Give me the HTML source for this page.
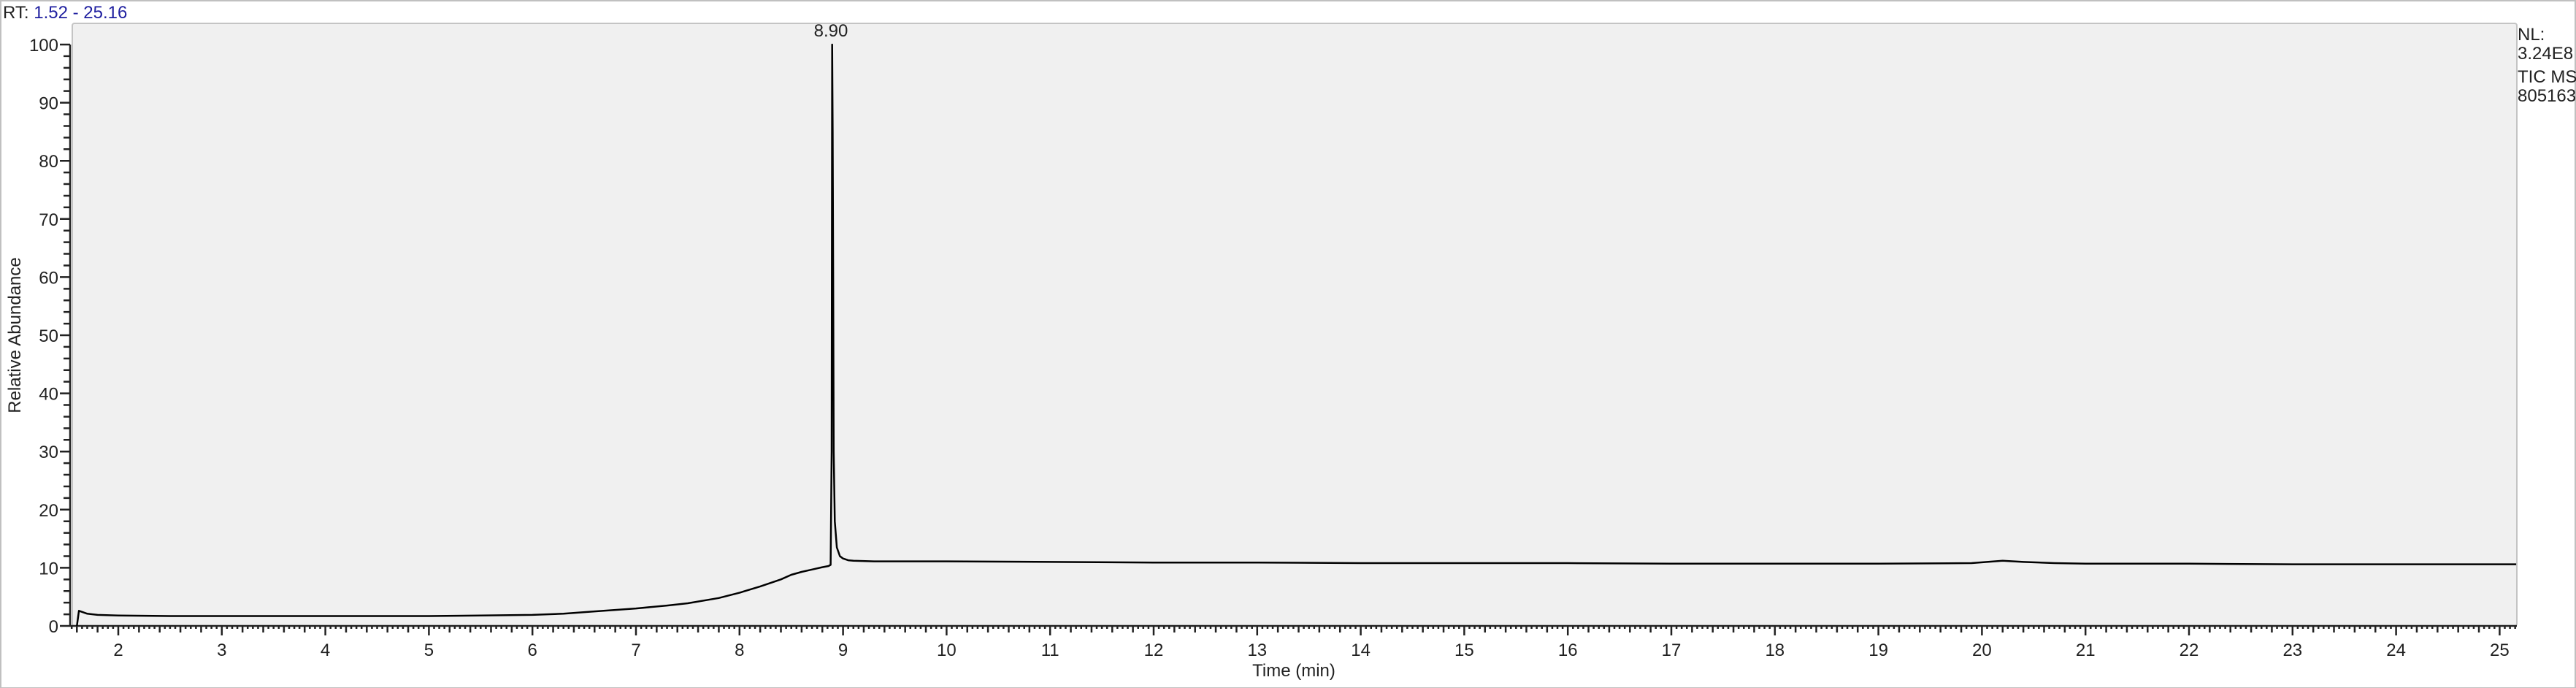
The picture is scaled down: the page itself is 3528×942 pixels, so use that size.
<!DOCTYPE html>
<html><head><meta charset="utf-8"><style>
html,body{margin:0;padding:0;background:#fff;}
svg{display:block;font-family:"Liberation Sans",Arial,sans-serif;}
</style></head><body>
<svg id="chart" width="3528" height="942" viewBox="0 0 3528 942" xmlns="http://www.w3.org/2000/svg">
<rect x="1" y="1" width="3526" height="941" fill="#fff" stroke="#c0c0c0" stroke-width="2"/>
<text x="4" y="25" font-size="24"><tspan fill="#222">RT: </tspan><tspan fill="#2020a0">1.52 - 25.16</tspan></text>
<rect x="99" y="32" width="3348" height="825" rx="3" fill="#f0f0f0" stroke="#c4c4c4" stroke-width="2"/>
<g id="axes"></g>
<g id="trace"></g>
<text x="1138" y="50" font-size="24" text-anchor="middle" fill="#222">8.90</text>
<text x="28" y="459" font-size="24" text-anchor="middle" fill="#222" transform="rotate(-90 28 459)">Relative Abundance</text>
<text x="1772" y="926" font-size="24" text-anchor="middle" fill="#222">Time (min)</text>
<g font-size="24" fill="#222">
<text x="3448" y="55">NL:</text>
<text x="3448" y="81">3.24E8</text>
<text x="3448" y="113">TIC  MS</text>
<text x="3448" y="139">805163</text>
</g>
</svg>
<script>
const times = [1.60,1.62,1.70,1.80,2.0,2.5,3.0,4.0,5.0,5.5,6.0,6.3,6.6,7.0,7.3,7.5,7.8,8.0,8.2,8.4,8.5,8.6,8.7,8.8,8.86,8.88,8.89,8.895,8.90,8.905,8.91,8.92,8.94,8.97,9.0,9.05,9.1,9.3,10,11,12,13,14,15,16,17,18,19,19.9,20.2,20.4,20.7,21,22,23,24,25,25.16];
const abundance = [0,2.6,2.1,1.9,1.8,1.7,1.7,1.7,1.7,1.8,1.9,2.1,2.5,3.0,3.5,3.9,4.8,5.7,6.8,8.0,8.8,9.3,9.7,10.1,10.3,10.5,30,100,85,60,30,18,13.5,12.0,11.6,11.3,11.2,11.1,11.1,11.0,10.9,10.9,10.8,10.8,10.8,10.7,10.7,10.7,10.8,11.2,11.0,10.8,10.7,10.7,10.6,10.6,10.6,10.6];
const yTicks = [0,10,20,30,40,50,60,70,80,90,100];
const xTicks = [2,3,4,5,6,7,8,9,10,11,12,13,14,15,16,17,18,19,20,21,22,23,24,25];
const xMin = 1.52, xMax = 25.16;
function sx(t){return 162 + (t-2)*141.8;}
function sy(v){return 857 - v*7.96;}
const NS="http://www.w3.org/2000/svg";
const axes=document.getElementById('axes');
function mk(tag,attrs,parent){const e=document.createElementNS(NS,tag);for(const k in attrs)e.setAttribute(k,attrs[k]);parent.appendChild(e);return e;}
let d="M96 "+sy(100)+" L96 857 L3447 857";
for(let v=0;v<=100;v+=2){const l=(v%10===0)?14:9;d+=" M"+(96-l)+" "+sy(v)+" L96 "+sy(v);}
for(let i=Math.ceil(xMin*20);i<=Math.floor(xMax*20);i++){const t=i/20;let l=4;if(i%20===0)l=13;else if(i%4===0)l=9;d+=" M"+sx(t)+" 857 L"+sx(t)+" "+(857+l);}
const axp=mk('path',{d:d,stroke:'#222','stroke-width':2.5,fill:'none'},axes);


yTicks.forEach(v=>{const t=mk('text',{x:80,y:sy(v)+9,'font-size':24,'text-anchor':'end',fill:'#222'},axes);t.textContent=v;

});
xTicks.forEach(v=>{const t=mk('text',{x:sx(v),y:898,'font-size':24,'text-anchor':'middle',fill:'#222'},axes);t.textContent=v;

});
const pts=times.map((t,i)=>sx(t).toFixed(1)+","+sy(abundance[i]).toFixed(1)).join(" ");
const line=mk('polyline',{points:pts,fill:'none',stroke:'#000','stroke-width':2.5,'stroke-linejoin':'round'},document.getElementById('trace'));


</script>
</body></html>
